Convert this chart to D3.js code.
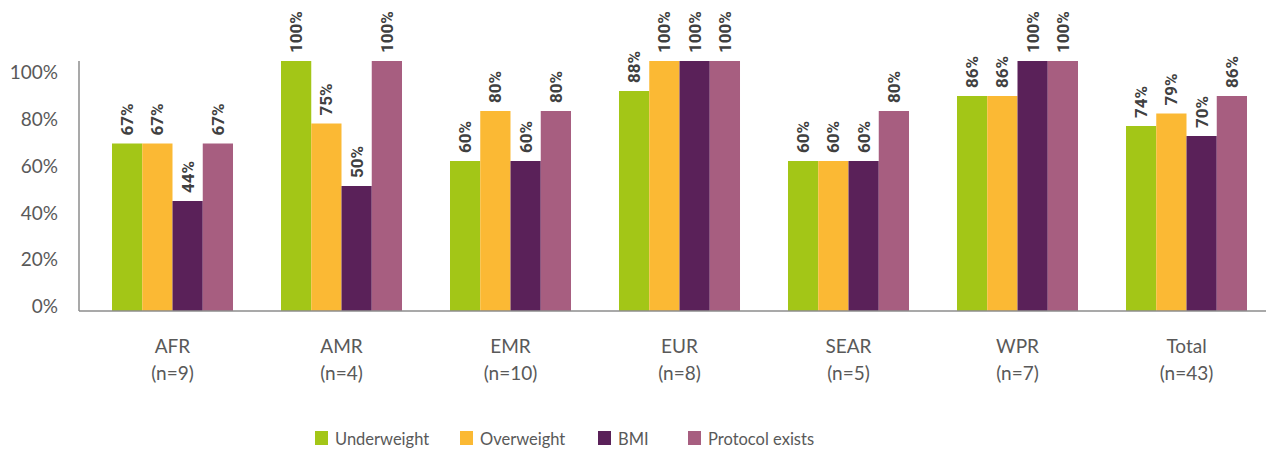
<!DOCTYPE html>
<html>
<head>
<meta charset="utf-8">
<script src="https://cdn.jsdelivr.net/npm/d3@7"></script>
<style>
  html, body { margin: 0; padding: 0; background: #ffffff; }
  svg { display: block; }
</style>
</head>
<body>
<div id="chart"></div>
<script>
// Regions and their sample size labels
const regions = ["AFR", "AMR", "EMR", "EUR", "SEAR", "WPR", "Total"];
const sampleSizes = ["(n=9)", "(n=4)", "(n=10)", "(n=8)", "(n=5)", "(n=7)", "(n=43)"];

// Series values (percent)
const seriesNames = ["Underweight", "Overweight", "BMI", "Protocol exists"];
const underweight = [67, 100, 60, 88, 60, 86, 74];
const overweight = [67, 75, 80, 100, 60, 86, 79];
const bmi = [44, 50, 60, 100, 60, 100, 70];
const protocolExists = [67, 100, 80, 100, 80, 100, 86];

// Y tick labels
const yTicks = [0, 20, 40, 60, 80, 100];

const colors = ["#a3c617", "#fbb934", "#5a2159", "#a75e80"];

const width = 1266, height = 450;
const svg = d3.select("#chart").append("svg")
  .attr("width", width)
  .attr("height", height);

const seriesValues = [underweight, overweight, bmi, protocolExists];
const rows = regions.map((r, i) => ({
  region: r,
  n: sampleSizes[i],
  values: seriesNames.map((s, j) => ({ key: s, value: seriesValues[j][i] }))
}));

// scales
const x0 = d3.scaleBand().domain(regions).range([88, 1271]).paddingInner(0.284).paddingOuter(0.142);
const x1 = d3.scaleBand().domain(seriesNames).range([0, x0.bandwidth()]);
const y = d3.scaleLinear().domain([0, 100]).range([311, 61]);
// tick labels sit on their own spacing in the source
const yLabel = d3.scaleLinear().domain([0, 100]).range([306.5, 72.5]);
const color = d3.scaleOrdinal().domain(seriesNames).range(colors);

// y tick labels
svg.append("g").selectAll("text")
  .data(yTicks)
  .join("text")
    .attr("x", 58)
    .attr("y", d => yLabel(d))
    .attr("dy", "0.35em")
    .attr("text-anchor", "end")
    .style("font-family", "Lato, sans-serif")
    .style("font-size", "19px")
    .style("fill", "#595959")
    .text(d => d + "%");

// bars
const groups = svg.append("g").selectAll("g")
  .data(rows)
  .join("g")
    .attr("transform", d => `translate(${x0(d.region)},0)`);

groups.selectAll("rect")
  .data(d => d.values)
  .join("rect")
    .attr("x", d => x1(d.key))
    .attr("y", d => y(d.value))
    .attr("width", x1.bandwidth())
    .attr("height", d => y(0) - y(d.value))
    .attr("fill", d => color(d.key));

// rotated value labels
groups.selectAll("text.value")
  .data(d => d.values)
  .join("text")
    .attr("class", "value")
    .attr("transform", d => `translate(${x1(d.key) + x1.bandwidth() / 2},${y(d.value) - 8}) rotate(-90)`)
    .attr("dy", "0.36em")
    .attr("text-anchor", "start")
    .style("font-family", "Roboto, sans-serif")
    .style("font-weight", "bold")
    .style("font-size", "17px")
    .style("fill", "#404040")
    .text(d => d.value + "%");

// axis lines
svg.append("line")
  .attr("x1", 79).attr("x2", 79)
  .attr("y1", 61).attr("y2", 311)
  .attr("stroke", "#8c8c8c").attr("stroke-width", 1.5);
svg.append("line")
  .attr("x1", 79).attr("x2", width)
  .attr("y1", 311).attr("y2", 311)
  .attr("stroke", "#8c8c8c").attr("stroke-width", 1.5);

// category labels (two lines)
const cat = svg.append("g").selectAll("text")
  .data(rows)
  .join("text")
    .attr("text-anchor", "middle")
    .style("font-family", "Lato, sans-serif")
    .style("font-size", "19px")
    .style("fill", "#595959");
cat.append("tspan")
  .attr("x", d => x0(d.region) + x0.bandwidth() / 2)
  .attr("y", 353)
  .text(d => d.region);
cat.append("tspan")
  .attr("x", d => x0(d.region) + x0.bandwidth() / 2)
  .attr("y", 380)
  .text(d => d.n);

// legend - entries sit at uneven spacing in the source
const legendPos = [315, 460, 598, 688];
const legend = svg.append("g").selectAll("g")
  .data(seriesNames)
  .join("g")
    .attr("transform", (d, i) => `translate(${legendPos[i]},0)`);
legend.append("rect")
  .attr("x", 0).attr("y", 431)
  .attr("width", 13).attr("height", 14)
  .attr("fill", d => color(d));
legend.append("text")
  .attr("x", 20).attr("y", 439)
  .attr("dy", "0.35em")
  .style("font-family", "Lato, sans-serif")
  .style("font-size", "16.5px")
  .style("fill", "#595959")
  .text(d => d);
</script>
</body>
</html>
